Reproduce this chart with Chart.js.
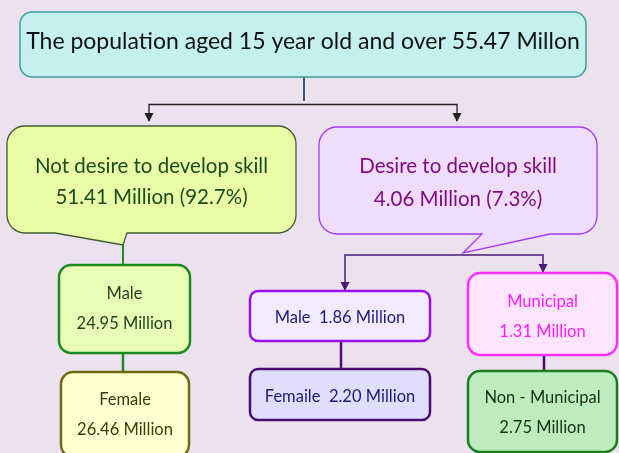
<!DOCTYPE html>
<html><head><meta charset="utf-8">
<script src="https://cdn.jsdelivr.net/npm/chart.js@4.4.1/dist/chart.umd.min.js"></script>
<style>html,body{margin:0;padding:0;background:#ECE1EE;overflow:hidden}#wrap{width:619px;height:453px;position:relative}</style>
</head><body><div id="wrap"><canvas id="c"></canvas></div>
<script>
// ---- data ----
const nodeNames = ['The population aged 15 year old and over', 'Not desire to develop skill', 'Desire to develop skill', 'Male', 'Female', 'Male', 'Femaile', 'Municipal', 'Non - Municipal'];
const nodeValues = [55.47, 51.41, 4.06, 24.95, 26.46, 1.86, 2.20, 1.31, 2.75];
const nodeShares = [null, 92.7, 7.3, null, null, null, null, null, null];
const topUnit = 'Millon';
const unit = 'Million';

// ---- layout / style (diagram coordinates, mapped through the chart scales) ----
const layout = [
  {x0:20,y0:12,x1:586,y1:77,r:12,fill:'#C4F0EF',stroke:'#3E9E9C',lw:1.5,color:'#111111',font:'23px Lato',fmt:'top',ty:[49]},
  {x0:7,y0:126,x1:296,y1:233,r:18,fill:'#E9FCA6',stroke:'#3F5A35',lw:1.3,color:'#1E4B1E',font:'20.5px Lato',fmt:'share',ty:[173,204],tail:[[127,233],[123,245],[55,233]]},
  {x0:319,y0:127,x1:597,y1:234,r:18,fill:'#F0DDFC',stroke:'#A33BF5',lw:1.3,color:'#800C80',font:'20.5px Lato',fmt:'share',ty:[173,206],tail:[[550,234],[463,253],[482,234]]},
  {x0:59,y0:265,x1:190,y1:353,r:12,fill:'#E8FDB6',stroke:'#1B8A1B',lw:2.5,color:'#1F3F1F',font:'16.5px Lato',fmt:'two',ty:[299,329]},
  {x0:61,y0:372,x1:189,y1:457,r:12,fill:'#FFFFD0',stroke:'#6E6A12',lw:2.5,color:'#3C3C14',font:'16.5px Lato',fmt:'two',ty:[405,435]},
  {x0:250,y0:291,x1:430,y1:341,r:8,fill:'#F4EAFD',stroke:'#9A10E8',lw:2.5,color:'#1A1A78',font:'16.5px Lato',fmt:'one',ty:[323]},
  {x0:250,y0:369,x1:430,y1:420,r:8,fill:'#E0DEFB',stroke:'#4A0E70',lw:2.5,color:'#1A1A78',font:'16.5px Lato',fmt:'one',ty:[402]},
  {x0:468,y0:273,x1:617,y1:355,r:12,fill:'#FFE4FF',stroke:'#FF30FF',lw:2.5,color:'#FF1FFF',font:'16.5px Lato',fmt:'two',ty:[307,337]},
  {x0:468,y0:371,x1:617,y1:452,r:12,fill:'#BDEDBE',stroke:'#1C7E1C',lw:2.5,color:'#143214',font:'16.5px Lato',fmt:'two',ty:[403,433]}
];
const connectors = [
  {pts:[[304,77],[304,101]],color:'#3D5A86',lw:2},
  {pts:[[149,121],[149,104.5],[457,104.5],[457,121]],color:'#222222',lw:1.3,arrows:[[149,122],[457,122]]},
  {pts:[[123,245],[123,265]],color:'#228822',lw:2},
  {pts:[[123,353],[123,372]],color:'#228822',lw:2.5},
  {pts:[[345,290],[345,255],[543,255],[543,273]],color:'#4B1A7A',lw:1.5,arrows:[[345,291],[543,273]]},
  {pts:[[341,341],[341,369]],color:'#4A0E70',lw:2.5},
  {pts:[[544,355],[544,371]],color:'#4A0E70',lw:2.5}
];

function nodeLines(i){
  const v = nodeValues[i].toFixed(2);
  const f = layout[i].fmt;
  if (f==='top') return [nodeNames[i]+' '+v+' '+topUnit];
  if (f==='share') return [nodeNames[i], v+' '+unit+' ('+nodeShares[i].toFixed(1)+'%)'];
  if (f==='one') return [nodeNames[i]+'  '+v+' '+unit];
  return [nodeNames[i], v+' '+unit];
}

const diagram = {
  id:'diagram',
  beforeDraw(chart){
    const c=chart.ctx; c.save(); c.fillStyle='#ECE1EE'; c.fillRect(0,0,chart.width,chart.height); c.restore();
  },
  afterDatasetsDraw(chart){
    const c=chart.ctx, xs=chart.scales.x, ys=chart.scales.y;
    const X=v=>xs.getPixelForValue(v), Y=v=>ys.getPixelForValue(v);
    c.save();
    c.lineCap='butt'; c.lineJoin='miter';
    connectors.forEach(k=>{
      c.strokeStyle=k.color; c.lineWidth=k.lw; c.beginPath();
      k.pts.forEach((p,j)=>{ j?c.lineTo(X(p[0]),Y(p[1])):c.moveTo(X(p[0]),Y(p[1])); });
      c.stroke();
      (k.arrows||[]).forEach(a=>{
        const tx=X(a[0]), ty=Y(a[1]);
        c.fillStyle=k.color; c.beginPath(); c.moveTo(tx,ty); c.lineTo(tx-4.5,ty-9); c.lineTo(tx+4.5,ty-9); c.closePath(); c.fill();
      });
    });
    const meta=chart.getDatasetMeta(0);
    layout.forEach((b,i)=>{
      const pt=meta.data[i];
      const x0=X(b.x0), x1=X(b.x1), y0=Y(b.y0), y1=Y(b.y1), r=b.r;
      c.beginPath();
      c.moveTo(x0+r,y0); c.lineTo(x1-r,y0); c.arcTo(x1,y0,x1,y0+r,r);
      c.lineTo(x1,y1-r); c.arcTo(x1,y1,x1-r,y1,r);
      (b.tail||[]).forEach(p=>c.lineTo(X(p[0]),Y(p[1])));
      c.lineTo(x0+r,y1); c.arcTo(x0,y1,x0,y1-r,r);
      c.lineTo(x0,y0+r); c.arcTo(x0,y0,x0+r,y0,r); c.closePath();
      c.fillStyle=b.fill; c.fill();
      c.strokeStyle=b.stroke; c.lineWidth=b.lw; c.stroke();
      c.fillStyle=b.color; c.font=b.font; c.textAlign='center'; c.textBaseline='alphabetic';
      nodeLines(i).forEach((t,j)=>c.fillText(t, pt.x, Y(b.ty[j])));
    });
    c.restore();
  }
};

new Chart(document.getElementById('c'), {
  type:'scatter',
  data:{datasets:[{data:layout.map(b=>({x:(b.x0+b.x1)/2, y:(b.y0+b.y1)/2})), pointRadius:0, pointHoverRadius:0}]},
  options:{
    responsive:true, maintainAspectRatio:false, animation:false,
    layout:{padding:0},
    plugins:{legend:{display:false}, tooltip:{enabled:false}},
    scales:{
      x:{type:'linear', min:0, max:619, display:false},
      y:{type:'linear', min:0, max:453, reverse:true, display:false}
    }
  },
  plugins:[diagram]
});
</script></body></html>
